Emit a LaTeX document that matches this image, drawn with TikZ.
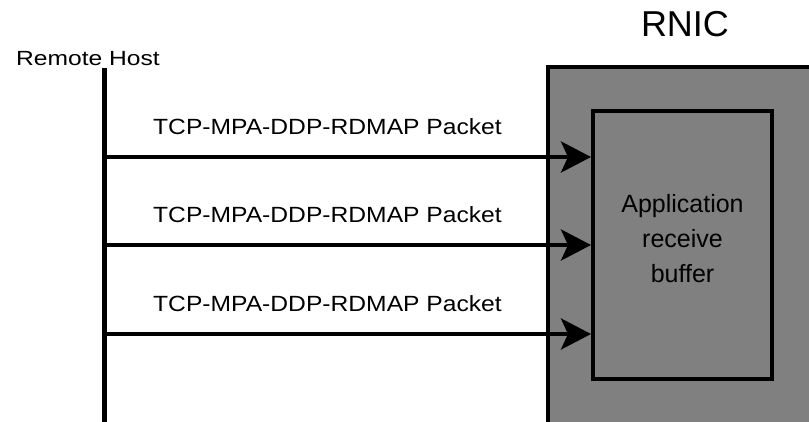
\documentclass[tikz,border=0pt]{standalone}
\usepackage{fontspec}
\setmainfont{Liberation Sans}
\usetikzlibrary{arrows.meta}
\begin{document}
\begin{tikzpicture}[x=1pt,y=-1pt]
\tikzstyle{bord}=[line width=4pt]
\tikzstyle{boite}=[bord, draw, fill=black!50, inner sep=0pt]
\tikzstyle{paquet}=[line width=4pt, -{Stealth[length=30pt,width=31pt,inset=7pt]}]
\tikzstyle{etiq}=[inner sep=0pt, font=\fontsize{22}{26}\selectfont, xscale=1.12]
\clip (0,0) rectangle (809,422);
\fill[white] (0,0) rectangle (809,422);
\draw[bord, fill=black!50] (548,67) rectangle (860,470);
\node[inner sep=0pt, font=\fontsize{36}{40}\selectfont] (rnic) at (685,24.5) {RNIC};
\node[boite, minimum width=179pt, minimum height=268pt] (buffer) at (682.5,245) {};
\node[align=center, inner sep=0pt, font=\fontsize{25}{35}\selectfont] (bufname) at ([yshift=6pt]buffer.center) {Application\\receive\\buffer};
\coordinate (hosttop) at (104,68);
\coordinate (hostbot) at (104,430);
\draw[line width=5pt] (hosttop) -- (hostbot);
\node[inner sep=0pt, font=\fontsize{20.5}{24}\selectfont, xscale=1.2] (host) at (88,58.3) {Remote Host};
\foreach \y/\n in {157/1,245/2,334/3} {
\coordinate (src\n) at (104,\y);
\draw[paquet] (src\n) -- (src\n -| buffer.west);
\node[etiq] (pkt\n) at (327.5,\y-30.3) {TCP-MPA-DDP-RDMAP Packet};
}
\end{tikzpicture}
\end{document}
